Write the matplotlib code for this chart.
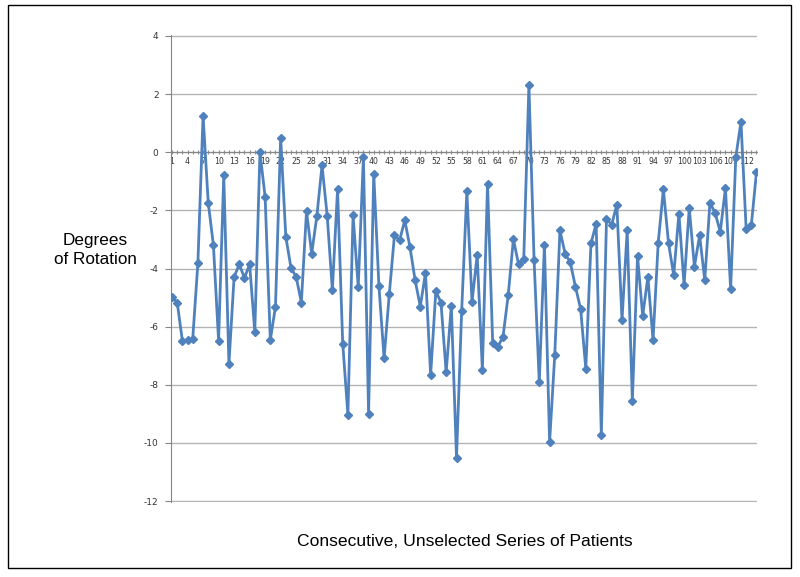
import matplotlib
matplotlib.use("Agg")
import matplotlib.pyplot as plt
from matplotlib.patches import Rectangle

# degrees of rotation for each patient
patients = list(range(1, 115))
rotation = [
    -4.97, -5.17, -6.49, -6.46, -6.42, -3.81, 1.26, -1.74, -3.20, -6.49,
    -0.80, -7.28, -4.29, -3.86, -4.32, -3.86, -6.17, 0.00, -1.54, -6.46,
    -5.31, 0.50, -2.91, -3.98, -4.29, -5.17, -2.03, -3.49, -2.20, -0.45,
    -2.19, -4.74, -1.28, -6.58, -9.03, -2.17, -4.63, -0.17, -9.00, -0.74,
    -4.60, -7.09, -4.89, -2.86, -3.03, -2.34, -3.26, -4.40, -5.31, -4.15,
    -7.66, -4.78, -5.17, -7.57, -5.28, -10.51, -5.46, -1.35, -5.14, -3.54,
    -7.49, -1.09, -6.57, -6.69, -6.34, -4.91, -2.99, -3.86, -3.68, 2.31,
    -3.71, -7.91, -3.18, -9.97, -6.97, -2.69, -3.49, -3.79, -4.63, -5.39,
    -7.45, -3.14, -2.46, -9.74, -2.31, -2.49, -1.81, -5.77, -2.69, -8.55,
    -3.57, -5.63, -4.29, -6.46, -3.11, -1.28, -3.14, -4.23, -2.11, -4.57,
    -1.91, -3.94, -2.86, -4.40, -1.74, -2.09, -2.74, -1.23, -4.71, -0.17,
    1.05, -2.63, -2.51, -0.69,
]
y_ticks = [4, 2, 0, -2, -4, -6, -8, -10, -12]
x_labels = [str(p) if (p - 1) % 3 == 0 else "" for p in patients]

fig = plt.figure(figsize=(8, 5.77), dpi=100)
ax = fig.add_axes([171 / 800, 75 / 577, 586 / 800, 467 / 577])

# move the x axis to y=0 first (this resets the ticks)
for side in ["top", "right"]:
    ax.spines[side].set_visible(False)
ax.spines["bottom"].set_position(("data", 0))
ax.spines["bottom"].set_color("#868686")
ax.spines["left"].set_color("#868686")

ax.plot(patients, rotation, color="#4f81bd", lw=2.0, marker="D", ms=4,
        mec="#4f81bd", mfc="#4f81bd", zorder=3)

ax.set_ylim(-12.03, 4.03)
ax.set_xlim(0.8, 114.1)
ax.set_yticks(y_ticks)
ax.set_yticklabels([str(v) for v in y_ticks])
ax.yaxis.grid(True, color="#b4b4b4", lw=1.0)
ax.set_axisbelow(True)

ax.set_xticks(patients)
ax.set_xticklabels(x_labels)
ax.tick_params(axis="x", length=3, width=0.8, color="#868686", pad=2,
               direction="inout", labelsize=5.6, labelcolor="#333333")
ax.tick_params(axis="y", length=4, width=0.8, color="#868686", pad=5,
               labelsize=6.5, labelcolor="#333333")
for lab in ax.get_xticklabels():
    lab.set_family("Liberation Sans Narrow")

fig.text(95 / 800, 1 - 250 / 577, "Degrees\nof Rotation", ha="center",
         va="center", fontsize=12.3, family="Liberation Sans", linespacing=1.4)
fig.text(465 / 800, 1 - 541 / 577, "Consecutive, Unselected Series of Patients",
         ha="center", va="center", fontsize=12.6, family="Liberation Sans")

# thin frame around the whole picture
fig.patches.append(Rectangle((8 / 800, 1 - 568 / 577), 783 / 800, 563 / 577,
                             transform=fig.transFigure, fill=False,
                             edgecolor="black", lw=1.0))

fig.savefig("out.png", dpi=100)
